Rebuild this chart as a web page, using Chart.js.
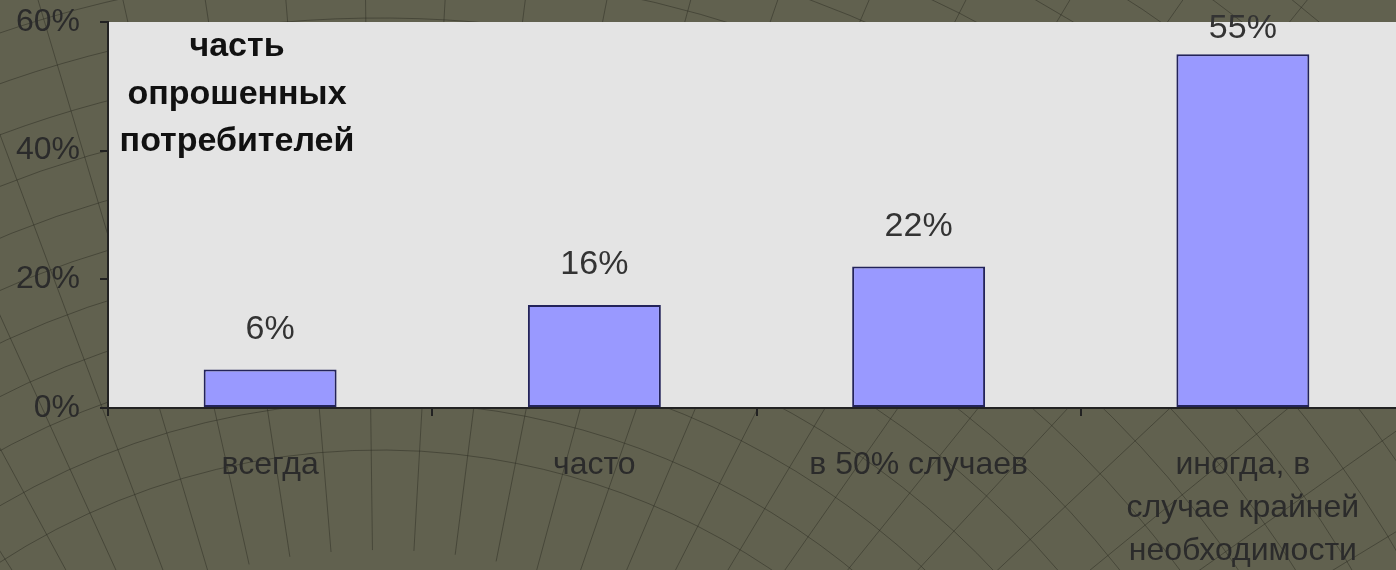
<!DOCTYPE html>
<html lang="ru">
<head>
  <meta charset="UTF-8" />
  <title>Часть опрошенных потребителей</title>
  <script src="https://cdn.jsdelivr.net/npm/chart.js"></script>
  <style>
    html, body { margin: 0; padding: 0; overflow: hidden; background: #61614f; }
    .wrap { position: relative; width: 1406px; height: 570px; }
  </style>
</head>
<body>
  <div class="wrap">
    <canvas id="chart"></canvas>
  </div>

  <script>
    // данные диаграммы
    const categories = [
      "всегда",
      "часто",
      "в 50% случаев",
      ["иногда, в", "случае крайней", "необходимости"]
    ];
    const shares = [6, 16, 22, 55];
    const yTicks = [0, 20, 40, 60];
    const titleLines = ["часть", "опрошенных", "потребителей"];

    const FONT = "'Liberation Sans', Arial, sans-serif";

    // фон слайда с тонкими дугами и серая область графика
    const backdrop = {
      id: "backdrop",
      beforeDraw(chart) {
        const { ctx, chartArea: a, width, height } = chart;
        ctx.save();
        ctx.fillStyle = "#61614f";
        ctx.fillRect(0, 0, width, height);
        ctx.strokeStyle = "rgba(40,40,30,0.45)";
        ctx.lineWidth = 1;
        const cx = 380, cy = 1150;
        for (let r = 700; r < 1500; r += 48) {
          ctx.beginPath();
          ctx.arc(cx, cy, r, Math.PI * 1.05, Math.PI * 1.95);
          ctx.stroke();
        }
        for (let k = 0; k < 40; k++) {
          const ang = Math.PI * (1.1 + k * 0.022);
          ctx.beginPath();
          ctx.moveTo(cx + Math.cos(ang) * 600, cy + Math.sin(ang) * 600);
          ctx.lineTo(cx + Math.cos(ang) * 1600, cy + Math.sin(ang) * 1600);
          ctx.stroke();
        }
        ctx.fillStyle = "#e4e4e4";
        ctx.fillRect(a.left, a.top, a.right - a.left, a.bottom - a.top);
        ctx.restore();
      }
    };

    // подписи значений над столбцами и заголовок оси внутри области
    const labels = {
      id: "labels",
      afterDatasetsDraw(chart) {
        const { ctx, chartArea: a } = chart;
        ctx.save();
        ctx.fillStyle = "#333333";
        ctx.textAlign = "center";
        ctx.textBaseline = "middle";
        ctx.font = "34px " + FONT;
        chart.getDatasetMeta(0).data.forEach((bar, i) => {
          const y = Math.max(bar.y - 40, a.top + 7);
          ctx.fillText(shares[i] + "%", bar.x, y);
        });
        ctx.fillStyle = "#111111";
        ctx.font = "bold 34px " + FONT;
        titleLines.forEach((t, i) => {
          ctx.fillText(t, a.left + 129, a.top + 25 + i * 47.5);
        });
        ctx.restore();
      }
    };

    new Chart(document.getElementById("chart"), {
      type: "bar",
      data: {
        labels: categories,
        datasets: [{
          data: shares,
          backgroundColor: "#9999ff",
          borderColor: "#23235a",
          borderWidth: 2,
          borderSkipped: false,
          barPercentage: 0.41,
          categoryPercentage: 1
        }]
      },
      options: {
        responsive: true,
        maintainAspectRatio: false,
        animation: false,
        layout: { padding: { left: 0, right: 1, top: 22, bottom: 0 } },
        plugins: {
          legend: { display: false },
          tooltip: { enabled: false }
        },
        scales: {
          x: {
            grid: {
              offset: true,
              drawOnChartArea: false,
              drawTicks: true,
              tickLength: 8,
              color: "#222222",
              lineWidth: 2
            },
            border: { color: "#222222", width: 2 },
            ticks: {
              color: "#2b2b2b",
              padding: 28,
              font: { family: FONT, size: 32, lineHeight: 1.34 },
              maxRotation: 0,
              autoSkip: false
            },
            afterFit(scale) { scale.height = 162; }
          },
          y: {
            min: 0,
            max: 60,
            afterBuildTicks(scale) { scale.ticks = yTicks.map(v => ({ value: v })); },
            grid: {
              drawOnChartArea: false,
              tickLength: 8,
              color: "#222222",
              lineWidth: 2
            },
            border: { color: "#222222", width: 2 },
            ticks: {
              color: "#2b2b2b",
              padding: 20,
              font: { family: FONT, size: 32 },
              callback: v => v + "%"
            },
            afterFit(scale) {
              scale.width = 108;
              scale.paddingTop = 0;
              scale.paddingBottom = 0;
            }
          }
        }
      },
      plugins: [backdrop, labels]
    });
  </script>
</body>
</html>
